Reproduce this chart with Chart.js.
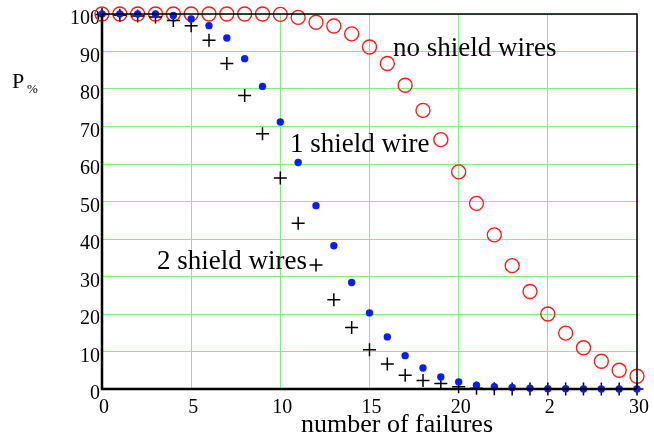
<!DOCTYPE html>
<html>
<head>
<meta charset="utf-8">
<script src="https://cdn.jsdelivr.net/npm/chart.js@4/dist/chart.umd.min.js"></script>
<style>
  html, body { margin: 0; padding: 0; background: #fff; }
  #chart { display: block; }
</style>
</head>
<body>
<canvas id="chart" width="654" height="438"></canvas>
<script>
// number of failures (x)
const failures = [0, 1, 2, 3, 4, 5, 6, 7, 8, 9, 10, 11, 12, 13, 14, 15,
  16, 17, 18, 19, 20, 21, 22, 23, 24, 25, 26, 27, 28, 29, 30];

// P%
const noShield = [100, 100, 100, 100, 100, 100, 100, 100, 100, 100, 99.9,
  99.1, 97.8, 96.8, 94.7, 91.2, 86.8, 81.0, 74.3, 66.5, 57.9, 49.5, 41.1,
  32.9, 26.0, 20.0, 14.9, 11.0, 7.4, 5.0, 3.4];
const oneShield = [100, 100, 100, 100, 99.6, 98.7, 96.9, 93.6, 88.1, 80.7,
  71.2, 60.4, 48.9, 38.2, 28.4, 20.3, 13.9, 8.9, 5.6, 3.2, 1.9, 1.0, 0.6,
  0.4, 0.2, 0.1, 0.1, 0, 0, 0, 0];
const twoShield = [99.9, 99.7, 99.5, 99.2, 98.3, 96.9, 93.0, 86.8, 78.3,
  68.1, 56.3, 44.2, 33.1, 23.8, 16.4, 10.5, 6.7, 3.7, 2.3, 1.5, 0.6, 0.2,
  0.1, 0, 0, 0, 0, 0, 0, 0, 0];

const xTicks = [0, 5, 10, 15, 20, 25, 30];
const xTickLabels = ["0", "5", "10", "15", "20", "2", "30"];

const seriesLabels = ["no shield wires", "1 shield wire", "2 shield wires"];

const serif = "'Liberation Serif', 'Times New Roman', serif";

function toPoints(ys) {
  return failures.map((x, i) => ({ x: x, y: ys[i] }));
}

// frame + text labels drawn on the canvas
const extras = {
  id: "extras",
  afterDraw(chart) {
    const ctx = chart.ctx;
    const a = chart.chartArea;
    ctx.save();
    ctx.strokeStyle = "#000";
    ctx.lineWidth = 1.5;
    ctx.beginPath();
    ctx.moveTo(a.left, a.top);
    ctx.lineTo(a.right, a.top);
    ctx.lineTo(a.right, a.bottom);
    ctx.stroke();
    ctx.lineWidth = 2.5;
    ctx.beginPath();
    ctx.moveTo(a.left, a.top);
    ctx.lineTo(a.left, a.bottom);
    ctx.lineTo(a.right, a.bottom);
    ctx.stroke();

    ctx.fillStyle = "#000";
    ctx.textBaseline = "alphabetic";
    ctx.textAlign = "left";
    ctx.font = "27px " + serif;
    ctx.fillText(seriesLabels[0], 393, 56);
    ctx.font = "27px " + serif;
    ctx.fillText(seriesLabels[1], 290, 152);
    ctx.font = "27px " + serif;
    ctx.fillText(seriesLabels[2], 157, 269);

    ctx.font = "26px " + serif;
    ctx.textAlign = "center";
    ctx.fillText("number of failures", 397, 432);

    ctx.textAlign = "left";
    ctx.font = "22px " + serif;
    ctx.fillText("P", 12, 88);
    ctx.font = "13px " + serif;
    ctx.fillText("%", 27, 93);
    ctx.restore();
  }
};

new Chart(document.getElementById("chart"), {
  type: "scatter",
  data: {
    datasets: [
      {
        label: seriesLabels[1],
        data: toPoints(oneShield),
        pointStyle: "circle",
        pointRadius: 3.7,
        backgroundColor: "#0a1ef0",
        borderColor: "#0a1ef0",
        borderWidth: 0,
        clip: false
      },
      {
        label: seriesLabels[2],
        data: toPoints(twoShield),
        pointStyle: "cross",
        pointRadius: 6.5,
        borderColor: "#000",
        borderWidth: 1.5,
        clip: false
      },
      {
        label: seriesLabels[0],
        data: toPoints(noShield),
        pointStyle: "circle",
        pointRadius: 7,
        backgroundColor: "rgba(0,0,0,0)",
        borderColor: "#ff1a1a",
        borderWidth: 1.4,
        clip: false
      }
    ]
  },
  options: {
    responsive: false,
    animation: false,
    events: [],
    layout: { padding: { left: 0, right: 14, top: 13, bottom: 0 } },
    plugins: {
      legend: { display: false },
      tooltip: { enabled: false }
    },
    scales: {
      x: {
        type: "linear",
        min: 0,
        max: 30,
        afterBuildTicks(scale) {
          scale.ticks = xTicks.map((v) => ({ value: v }));
        },
        afterFit(scale) { scale.height = 49; },
        grid: { color: "rgb(128,240,128)", lineWidth: 1, drawTicks: false },
        border: { display: false },
        ticks: {
          color: "#000",
          font: { family: serif, size: 20 },
          padding: 7,
          labelOffset: 2,
          maxRotation: 0,
          callback: (v) => xTickLabels[xTicks.indexOf(v)]
        }
      },
      y: {
        min: 0,
        max: 100,
        afterFit(scale) { scale.width = 102; },
        grid: { color: "rgb(128,240,128)", lineWidth: 1, drawTicks: false },
        border: { display: false },
        ticks: {
          stepSize: 10,
          color: "#000",
          font: { family: serif, size: 20 },
          padding: 2,
          labelOffset: 5
        }
      }
    }
  },
  plugins: [extras]
});
</script>
</body>
</html>
